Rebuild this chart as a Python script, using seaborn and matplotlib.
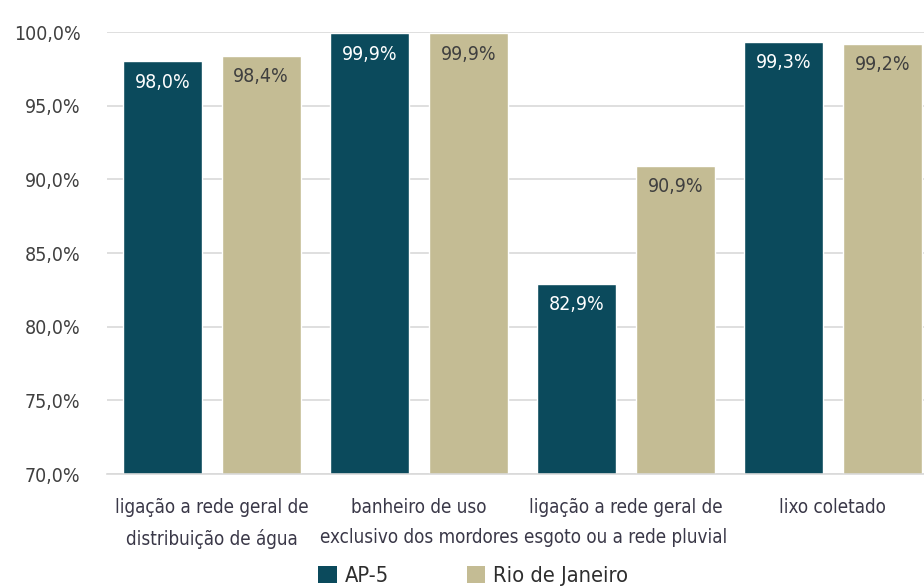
import matplotlib
matplotlib.use("Agg")
import matplotlib.pyplot as plt
import seaborn as sns
import pandas as pd
from matplotlib.patches import Patch
from matplotlib import font_manager as fm

categories = ["ligação a rede geral de\ndistribuição de água",
              "banheiro de uso\nexclusivo dos mordores",
              "ligação a rede geral de\nesgoto ou a rede pluvial",
              "lixo coletado"]
series = ["AP-5", "Rio de Janeiro"]
ap5 = [98.0, 99.9, 82.9, 99.3]
rio = [98.4, 99.9, 90.9, 99.2]
yticks = [70, 75, 80, 85, 90, 95, 100]

colors = {"AP-5": "#0B4A5C", "Rio de Janeiro": "#C4BC94"}
label_colors = {"AP-5": "#FFFFFF", "Rio de Janeiro": "#3F3F3F"}

df = pd.DataFrame({
    "cat": categories * 2,
    "serie": [series[0]] * 4 + [series[1]] * 4,
    "val": ap5 + rio,
})

sns.set_theme(style="white")
names = {f.name for f in fm.fontManager.ttflist}
condensed = any(("Condensed" in f.fname or "Narrow" in f.fname) and f.name in ("DejaVu Sans", "Liberation Sans Narrow")
                for f in fm.fontManager.ttflist)
if "Liberation Sans Narrow" in names:
    FONT = ["Liberation Sans Narrow", "DejaVu Sans"]
    plt.rcParams["font.family"] = FONT
else:
    plt.rcParams["font.family"] = ["DejaVu Sans"]
    plt.rcParams["font.stretch"] = "condensed"
scale = 1.08 if condensed else 1.0

fig = plt.figure(figsize=(9.24, 5.88), dpi=100)
ax = fig.add_axes([107 / 924, 1 - 474 / 588, 1 - 107 / 924, (474 - 32) / 588])

sns.barplot(data=df, x="cat", y="val", hue="serie", palette=colors,
            width=0.956, gap=0.2, ax=ax, legend=False, saturation=1)

ax.set_ylim(70, 100)
ax.set_xlim(-0.506, 3.44)
ax.set_yticks(yticks)
ax.set_yticklabels([f"{v:.1f}".replace(".", ",") + "%" for v in yticks],
                   fontsize=13 * scale, color="#404040")
ax.tick_params(axis="y", length=0, pad=19)
ax.tick_params(axis="x", length=0, pad=17, labelsize=12.5 * scale, labelcolor="#3A3848")
for lab in ax.get_xticklabels():
    lab.set_linespacing(1.75)
ax.set_xlabel("")
ax.set_ylabel("")
ax.grid(axis="y", color="#D9D9D9", linewidth=1.2)
ax.set_axisbelow(True)
for s in ["top", "right", "left"]:
    ax.spines[s].set_visible(False)
ax.spines["bottom"].set_color("#D9D9D9")
ax.spines["bottom"].set_linewidth(1.2)

for container, name in zip(ax.containers, series):
    for patch in container:
        h = patch.get_height()
        xc = patch.get_x() + patch.get_width() / 2
        ax.annotate(f"{h:.1f}".replace(".", ",") + "%", (xc, h),
                    xytext=(0, -8), textcoords="offset points",
                    ha="center", va="top", fontsize=13 * scale,
                    color=label_colors[name])

handles = [Patch(facecolor=colors[s], edgecolor="none") for s in series]
fig.legend(handles, series, loc="center", bbox_to_anchor=(0.512, 0.02),
           ncol=2, frameon=False, fontsize=14.5 * scale, handlelength=0.85,
           handleheight=0.85, columnspacing=3.6, handletextpad=0.35,
           labelcolor="#2E2E2E")

fig.savefig("out.png", dpi=100)
